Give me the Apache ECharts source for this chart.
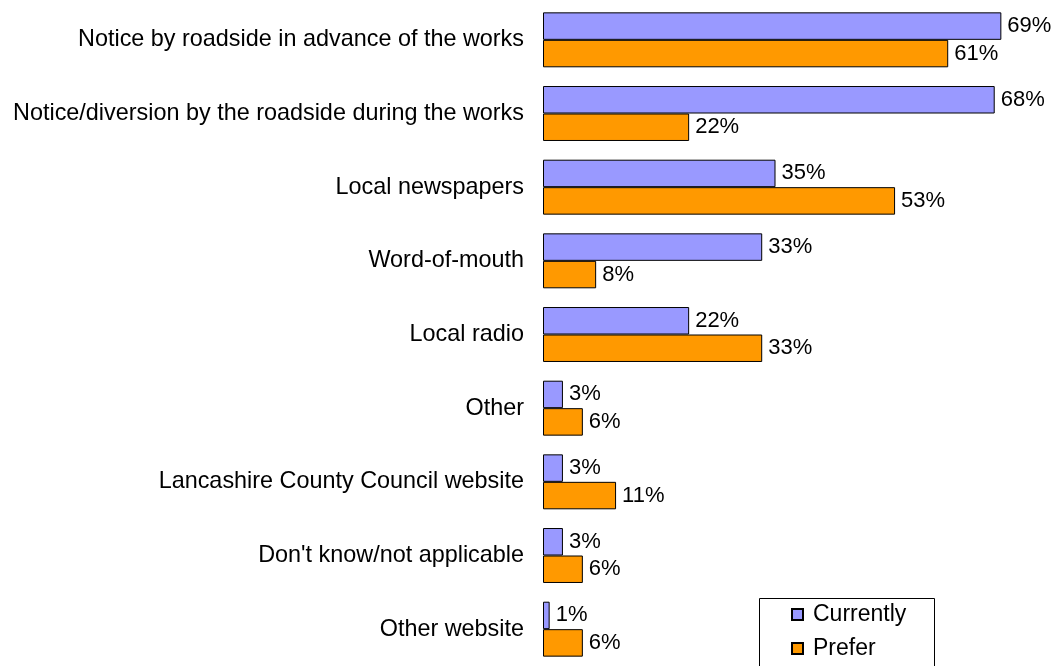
<!DOCTYPE html>
<html>
<head>
<meta charset="utf-8">
<script src="https://cdn.jsdelivr.net/npm/echarts@6/dist/echarts.min.js"></script>
<style>
  html, body { margin: 0; padding: 0; background: #fff; }
  #main { width: 1056px; height: 666px; }
</style>
</head>
<body>
<div id="main"></div>
<script>
// categories, top to bottom
var categories = [
    'Notice by roadside in advance of the works',
    'Notice/diversion by the roadside during the works',
    'Local newspapers',
    'Word-of-mouth',
    'Local radio',
    'Other',
    'Lancashire County Council website',
    "Don't know/not applicable",
    'Other website'
];
var currently = [69, 68, 35, 33, 22, 3, 3, 3, 1];
var prefer = [61, 22, 53, 8, 33, 6, 11, 6, 6];

var font = 'Liberation Sans, Arial, sans-serif';

var myChart = echarts.init(document.getElementById('main'));

var labelStyle = {
    show: true,
    position: 'right',
    distance: 6,
    color: '#000',
    fontSize: 22,
    fontFamily: font,
    formatter: '{c}%'
};

myChart.setOption({
    animation: false,
    textStyle: { fontFamily: font },
    grid: { left: 543, right: 48, top: 3, bottom: 0, containLabel: false },
    xAxis: {
        type: 'value',
        min: 0,
        max: 70,
        show: false
    },
    yAxis: {
        type: 'category',
        data: categories,
        inverse: true,
        axisLine: { show: false },
        axisTick: { show: false },
        axisLabel: { color: '#000', fontSize: 23.4, fontFamily: font, margin: 19 }
    },
    legend: {
        orient: 'vertical',
        left: 786,
        top: 598,
        itemWidth: 11,
        itemHeight: 11,
        itemGap: 11,
        icon: 'rect',
        textStyle: { color: '#000', fontSize: 23, fontFamily: font, padding: [0, 0, 0, 5] },
        data: ['Currently', 'Prefer']
    },
    graphic: [{
        type: 'rect',
        left: 757,
        top: 596,
        shape: { width: 175, height: 80 },
        style: { fill: 'none', stroke: '#000', lineWidth: 1 },
        z: 10
    }],
    series: [
        {
            name: 'Currently',
            type: 'bar',
            data: currently,
            barGap: 0,
            barCategoryGap: '25.4%',
            itemStyle: { color: '#9999FF', borderColor: '#000', borderWidth: 1 },
            label: labelStyle
        },
        {
            name: 'Prefer',
            type: 'bar',
            data: prefer,
            itemStyle: { color: '#FF9900', borderColor: '#000', borderWidth: 1 },
            label: labelStyle
        }
    ]
});
</script>
</body>
</html>
